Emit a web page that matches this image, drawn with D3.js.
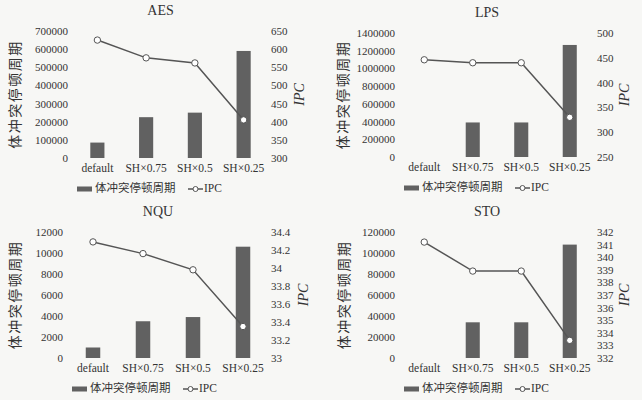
<!DOCTYPE html>
<html lang="zh">
<head>
  <meta charset="utf-8">
  <title>Bank conflict stall cycles vs IPC</title>
  <script src="https://cdn.jsdelivr.net/npm/d3@7"></script>
  <style>
    body { margin: 0; background: #f7f7f5; }
    svg text { font-family: "Liberation Serif", "Noto Sans CJK SC", serif; fill: #333; }
  </style>
</head>
<body>
  <script>
    let svgWidth = 642, svgHeight = 400;
    let fontStack = '"Liberation Serif", "Noto Sans CJK SC", serif';

    // categories on the x axis
    let categories = ["default", "SH×0.75", "SH×0.5", "SH×0.25"];

    // series values
    let aesStall = [85000, 225000, 250000, 590000];
    let aesIpc = [625, 576, 562, 405];
    let lpsStall = [0, 390000, 390000, 1265000];
    let lpsIpc = [446, 440, 440, 330];
    let nquStall = [1000, 3500, 3900, 10600];
    let nquIpc = [34.29, 34.16, 33.98, 33.35];
    let stoStall = [0, 34000, 34000, 108000];
    let stoIpc = [341.2, 338.9, 338.9, 333.4];

    // tick labels
    let aesLeftTicks = [0, 100000, 200000, 300000, 400000, 500000, 600000, 700000];
    let aesRightTicks = [300, 350, 400, 450, 500, 550, 600, 650];
    let lpsLeftTicks = [0, 200000, 400000, 600000, 800000, 1000000, 1200000, 1400000];
    let lpsRightTicks = [250, 300, 350, 400, 450, 500];
    let nquLeftTicks = [0, 2000, 4000, 6000, 8000, 10000, 12000];
    let nquRightTicks = [33, 33.2, 33.4, 33.6, 33.8, 34, 34.2, 34.4];
    let stoLeftTicks = [0, 20000, 40000, 60000, 80000, 100000, 120000];
    let stoRightTicks = [332, 333, 334, 335, 336, 337, 338, 339, 340, 341, 342];

    let svg = d3.select("body").append("svg")
      .attr("width", svgWidth)
      .attr("height", svgHeight)
      .attr("font-family", fontStack);

    createPanel({ title: "AES", stall: aesStall, ipc: aesIpc, left: aesLeftTicks, right: aesRightTicks,
      x0: 73, x1: 268, y0: 31, y1: 158, yLabelX: 17, ipcLabelX: 301 });
    createPanel({ title: "LPS", stall: lpsStall, ipc: lpsIpc, left: lpsLeftTicks, right: lpsRightTicks,
      x0: 400, x1: 594, y0: 33, y1: 157, yLabelX: 345, ipcLabelX: 626 });
    createPanel({ title: "NQU", stall: nquStall, ipc: nquIpc, left: nquLeftTicks, right: nquRightTicks,
      x0: 68, x1: 268, y0: 232, y1: 358, yLabelX: 17, ipcLabelX: 305 });
    createPanel({ title: "STO", stall: stoStall, ipc: stoIpc, left: stoLeftTicks, right: stoRightTicks,
      x0: 400, x1: 594, y0: 232, y1: 358, yLabelX: 346, ipcLabelX: 626 });

    function createPanel(p) {
      let g = svg.append("g");
      // scales
      let xScale = d3.scaleBand().domain(categories).range([p.x0, p.x1]).paddingInner(0.71).paddingOuter(0.355);
      let xPoint = d3.scalePoint().domain(categories).range([p.x0, p.x1]).padding(0.5);
      let yLeft = d3.scaleLinear().domain(d3.extent(p.left)).range([p.y1, p.y0]);
      let yRight = d3.scaleLinear().domain(d3.extent(p.right)).range([p.y1, p.y0]);

      // bars
      g.selectAll(".bar").data(p.stall).join("rect")
        .attr("x", (d, i) => xScale(categories[i]))
        .attr("y", d => yLeft(d))
        .attr("width", xScale.bandwidth())
        .attr("height", d => p.y1 - yLeft(d))
        .attr("fill", "#616161");

      // IPC line
      let line = d3.line().x((d, i) => xPoint(categories[i])).y(d => yRight(d));
      g.append("path").datum(p.ipc)
        .attr("d", line)
        .attr("fill", "none")
        .attr("stroke", "#555")
        .attr("stroke-width", 1.5);
      g.selectAll(".pt").data(p.ipc).join("circle")
        .attr("cx", (d, i) => xPoint(categories[i]))
        .attr("cy", d => yRight(d))
        .attr("r", 3.2)
        .attr("fill", "#fff")
        .attr("stroke", "#555")
        .attr("stroke-width", 1);

      // axes, no domain lines or ticks
      let leftAxis = d3.axisLeft(yLeft).tickValues(p.left).tickSize(0).tickPadding(5).tickFormat(d3.format("d"));
      let leftG = g.append("g").attr("transform", `translate(${p.x0}, 0)`).call(leftAxis);
      let rightAxis = d3.axisRight(yRight).tickValues(p.right).tickSize(0).tickPadding(3).tickFormat(d => String(+d.toFixed(1)));
      let rightG = g.append("g").attr("transform", `translate(${p.x1}, 0)`).call(rightAxis);
      let bottomAxis = d3.axisBottom(xScale).tickSize(0).tickPadding(6);
      let bottomG = g.append("g").attr("transform", `translate(0, ${p.y1})`).call(bottomAxis);
      [leftG, rightG, bottomG].forEach(a => {
        a.attr("font-family", fontStack).attr("font-size", 11);
        a.select(".domain").remove();
        a.selectAll("text").attr("fill", "#333");
      });
      bottomG.selectAll("text").attr("font-size", 11.5);

      // title
      g.append("text").text(p.title)
        .attr("x", (p.x0 + p.x1) / 2 - 10)
        .attr("y", p.y0 - 16)
        .attr("text-anchor", "middle")
        .attr("font-size", 14);

      // y labels
      let midY = (p.y0 + p.y1) / 2;
      g.append("text").text("体冲突停顿周期")
        .attr("transform", `translate(${p.yLabelX}, ${midY}) rotate(-90)`)
        .attr("text-anchor", "middle")
        .attr("dominant-baseline", "middle")
        .attr("font-size", 14)
        .attr("letter-spacing", 1.5);
      g.append("text").text("IPC")
        .attr("transform", `translate(${p.ipcLabelX}, ${midY}) rotate(-90)`)
        .attr("text-anchor", "middle")
        .attr("dominant-baseline", "middle")
        .attr("font-size", 14)
        .attr("font-style", "italic");

      // legend
      let ly = p.y1 + 31;
      g.append("rect").attr("x", p.x0 + 4).attr("y", ly - 2.5).attr("width", 15).attr("height", 5).attr("fill", "#616161");
      g.append("text").text("体冲突停顿周期")
        .attr("x", p.x0 + 22).attr("y", ly)
        .attr("dominant-baseline", "middle")
        .attr("font-size", 11.5);
      g.append("line").attr("x1", p.x0 + 115).attr("x2", p.x0 + 130).attr("y1", ly).attr("y2", ly)
        .attr("stroke", "#555").attr("stroke-width", 1.5);
      g.append("circle").attr("cx", p.x0 + 122.5).attr("cy", ly).attr("r", 2.5)
        .attr("fill", "#fff").attr("stroke", "#555");
      g.append("text").text("IPC")
        .attr("x", p.x0 + 131).attr("y", ly)
        .attr("dominant-baseline", "middle")
        .attr("font-size", 11.5);
    }
  </script>
</body>
</html>
